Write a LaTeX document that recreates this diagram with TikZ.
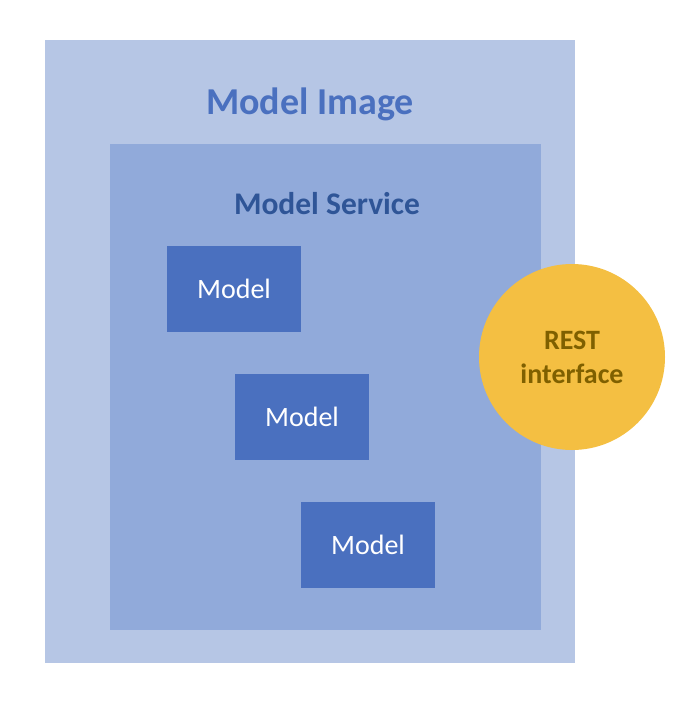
\documentclass[tikz,border=0pt]{standalone}
\usepackage{fontspec}
\setmainfont{Carlito}
\definecolor{outerc}{HTML}{B6C6E5}
\definecolor{innerc}{HTML}{91AADA}
\definecolor{modelc}{HTML}{4A70BF}
\definecolor{svcc}{HTML}{2F5597}
\definecolor{restc}{HTML}{F4BF42}
\definecolor{resttxt}{HTML}{7F6000}
\begin{document}
\begin{tikzpicture}[x=1pt,y=-1pt,
  modelbox/.style={fill=modelc,draw=none,minimum width=134pt,minimum height=86pt,inner sep=0pt,text=white,font=\fontsize{28}{32}\selectfont}]
\useasboundingbox (0,0) rectangle (686,706);
\fill[outerc] (45,40) rectangle (575,663);
\fill[innerc] (110,144) rectangle (541,630);
\node[text=modelc,font=\bfseries\fontsize{38}{44}\selectfont] (img) at (310,104) {Model Image};
\node[text=svcc,font=\bfseries\fontsize{31.5}{36}\selectfont] (svc) at (327,204) {Model Service};
\node[modelbox] (m1) at (234,289) {Model};
\node[modelbox] (m2) at (302,417) {Model};
\node[modelbox] (m3) at (368,545) {Model};
\node[circle,fill=restc,minimum size=186pt,inner sep=0pt,text=resttxt,font=\bfseries\fontsize{28}{34}\selectfont,align=center] (rest) at (572,357) {REST\\interface};
\end{tikzpicture}
\end{document}
